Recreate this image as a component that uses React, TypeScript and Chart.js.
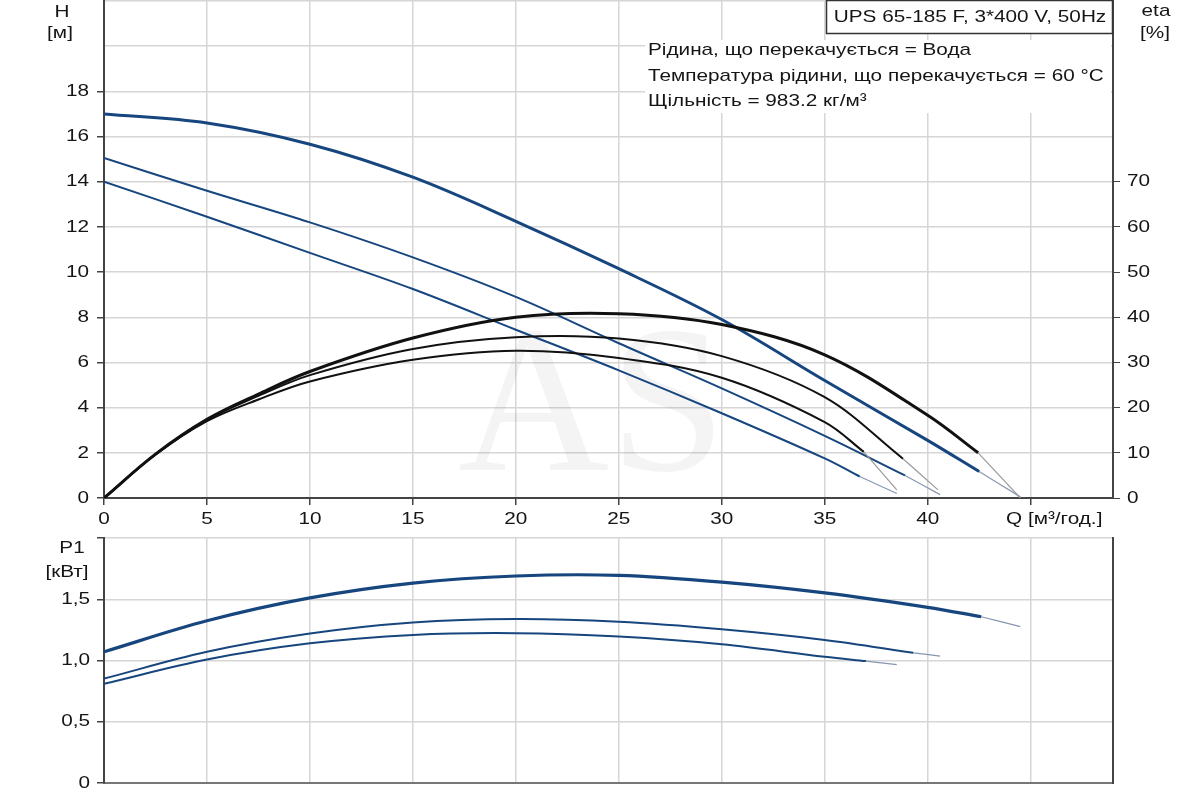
import { useEffect, useRef } from "react"
import Chart from "chart.js/auto"

// осі
const qTicks = [0, 5, 10, 15, 20, 25, 30, 35, 40, 45]
const hTicks = [0, 2, 4, 6, 8, 10, 12, 14, 16, 18, 20, 22]
const etaTicks = [0, 10, 20, 30, 40, 50, 60, 70]
const p1Ticks = [0, 0.5, 1, 1.5, 2]

// напір H [м]
const h1Q = [0, 5, 10, 15, 20, 25, 30, 35, 40, 42.5]
const h1 = [17.0, 16.6, 15.66, 14.2, 12.25, 10.15, 7.9, 5.2, 2.55, 1.17]
const h1TailQ = [42.5, 44.5]
const h1Tail = [1.17, 0.05]

const h2Q = [0, 5, 10, 15, 20, 25, 30, 35, 38.9]
const h2 = [15.05, 13.6, 12.2, 10.65, 8.9, 6.85, 4.85, 2.75, 1.0]
const h2TailQ = [38.9, 40.6]
const h2Tail = [1.0, 0.15]

const h3Q = [0, 5, 10, 15, 20, 25, 30, 35, 36.7]
const h3 = [14.0, 12.45, 10.85, 9.25, 7.45, 5.65, 3.75, 1.75, 0.95]
const h3TailQ = [36.7, 38.5]
const h3Tail = [0.95, 0.2]

// ККД eta [%]
const eta1Q = [0, 2.5, 5, 7.5, 10, 15, 20, 25, 30, 35, 40, 42.45]
const eta1 = [0, 9.7, 17.4, 23.0, 28.0, 35.4, 40.0, 40.8, 38.4, 31.7, 18.3, 10.0]
const eta1TailQ = [42.45, 44.5]
const eta1Tail = [10.0, 0]

const eta2Q = [0, 2.5, 5, 7.5, 10, 15, 20, 25, 30, 35, 38.8]
const eta2 = [0, 9.7, 17.3, 22.6, 27.2, 33.0, 35.6, 35.3, 31.4, 22.3, 8.7]
const eta2TailQ = [38.8, 40.5]
const eta2Tail = [8.7, 1.8]

const eta3Q = [0, 2.5, 5, 7.5, 10, 15, 20, 25, 30, 35, 36.9]
const eta3 = [0, 9.6, 17.0, 21.8, 25.8, 30.6, 32.6, 31.0, 26.6, 16.8, 10.2]
const eta3TailQ = [36.9, 38.5]
const eta3Tail = [10.2, 1.8]

// потужність P1 [кВт]
const p1aQ = [0, 5, 10, 15, 20, 25, 30, 35, 40, 42.6]
const p1a = [1.071, 1.324, 1.511, 1.632, 1.69, 1.695, 1.64, 1.552, 1.434, 1.357]
const p1aTailQ = [42.6, 44.5]
const p1aTail = [1.357, 1.277]

const p1bQ = [0, 5, 10, 15, 20, 25, 30, 35, 39.3]
const p1b = [0.852, 1.071, 1.22, 1.31, 1.338, 1.316, 1.255, 1.168, 1.063]
const p1bTailQ = [39.3, 40.6]
const p1bTail = [1.063, 1.036]

const p1cQ = [0, 5, 10, 15, 20, 25, 30, 35, 37.0]
const p1c = [0.81, 1.008, 1.14, 1.209, 1.223, 1.195, 1.132, 1.03, 0.995]
const p1cTailQ = [37.0, 38.5]
const p1cTail = [0.995, 0.967]

const BLUE = "#17467f"
const BLACK = "#111111"
const TAIL_BLUE = "#8797b0"
const TAIL_GRAY = "#9a9a9a"
const GRID = "#d6d6d6"
const AXIS = "#444444"
const TEXT = "#151515"
const LABEL_FONT = "17px 'Liberation Sans', Arial, sans-serif"
const STRETCH = 1.22 // картинка розтягнута по горизонталі
const HIDDEN = "rgba(0,0,0,0)"

const pts = (xs: number[], ys: number[]) => xs.map((x, i) => ({ x, y: ys[i] }))

const line = (xs: number[], ys: number[], color: string, width: number, axis = "y") => ({
  data: pts(xs, ys),
  borderColor: color,
  borderWidth: width,
  yAxisID: axis,
  pointRadius: 0,
  fill: false,
  tension: 0.35,
})

// текст, розтягнутий по ширині, як у оригіналі
function text(ctx: CanvasRenderingContext2D, s: string, x: number, y: number, align: CanvasTextAlign) {
  ctx.save()
  ctx.translate(x, y)
  ctx.scale(STRETCH, 1)
  ctx.textAlign = align
  ctx.fillText(s, 0, 0)
  ctx.restore()
}

const fmtP1 = (v: number) => (v === 0 ? "0" : v.toFixed(1).replace(".", ","))

function drawTickLabels(chart: any, xLabels: boolean) {
  const ctx = chart.ctx as CanvasRenderingContext2D
  const { x, y } = chart.scales
  ctx.save()
  ctx.font = LABEL_FONT
  ctx.fillStyle = TEXT
  ctx.textBaseline = "middle"
  if (xLabels) {
    qTicks.filter((v) => v <= 40).forEach((v) => text(ctx, String(v), x.getPixelForValue(v), 519, "center"))
    text(ctx, "Q [м³/год.]", 1006, 519, "left")
    hTicks.filter((v) => v <= 18).forEach((v) => text(ctx, String(v), 89, y.getPixelForValue(v), "right"))
    const eta = chart.scales.eta
    etaTicks.forEach((v) => text(ctx, String(v), 1127, eta.getPixelForValue(v), "left"))
  } else {
    p1Ticks.filter((v) => v < 2).forEach((v) => text(ctx, fmtP1(v), 90, y.getPixelForValue(v), "right"))
  }
  ctx.restore()
}

const topLabels = {
  id: "topLabels",
  beforeDatasetsDraw(chart: any) {
    const ctx = chart.ctx
    ctx.save()
    ctx.fillStyle = "rgba(0,0,0,0.045)"
    ctx.font = "210px 'Liberation Serif', serif"
    ctx.textAlign = "center"
    ctx.textBaseline = "alphabetic"
    ctx.fillText("AS", 592, 470)
    ctx.restore()
  },
  afterDraw(chart: any) {
    const ctx = chart.ctx as CanvasRenderingContext2D
    drawTickLabels(chart, true)
    ctx.save()
    ctx.font = LABEL_FONT
    ctx.fillStyle = TEXT
    ctx.textBaseline = "middle"
    text(ctx, "H", 62, 12, "center")
    text(ctx, "[м]", 60, 33, "center")
    text(ctx, "eta", 1156, 11, "center")
    text(ctx, "[%]", 1155, 33, "center")

    // білий фон під описом рідини
    ctx.fillStyle = "#ffffff"
    ctx.fillRect(645, 40, 466, 73)
    ctx.fillStyle = TEXT
    text(ctx, "Рідина, що перекачується = Вода", 648, 50, "left")
    text(ctx, "Температура рідини, що перекачується = 60 °C", 648, 76, "left")
    text(ctx, "Щільність = 983.2 кг/м³", 648, 101, "left")

    // рамка з назвою насоса
    ctx.fillStyle = "#ffffff"
    ctx.fillRect(826, 0, 287, 34)
    ctx.strokeStyle = "#333333"
    ctx.lineWidth = 1.5
    ctx.strokeRect(826.5, 0.5, 286, 33)
    ctx.fillStyle = TEXT
    text(ctx, "UPS 65-185 F, 3*400 V, 50Hz", 970, 17, "center")
    ctx.restore()
  },
}

const bottomLabels = {
  id: "bottomLabels",
  afterDraw(chart: any) {
    const ctx = chart.ctx as CanvasRenderingContext2D
    drawTickLabels(chart, false)
    ctx.save()
    ctx.font = LABEL_FONT
    ctx.fillStyle = TEXT
    ctx.textBaseline = "middle"
    text(ctx, "P1", 72, 18, "center")
    text(ctx, "[кВт]", 67, 42, "center")
    ctx.restore()
  },
}

const fixTicks = (values: number[]) => (scale: any) => {
  scale.ticks = values.map((value) => ({ value }))
}

const fit = (w: number | null, h: number | null) => (s: any) => {
  if (w !== null) s.width = w
  if (h !== null) s.height = h
  s.paddingTop = 0
  s.paddingBottom = 0
  s.paddingLeft = 0
  s.paddingRight = 0
}

export default function App() {
  const topRef = useRef<HTMLCanvasElement>(null)
  const bottomRef = useRef<HTMLCanvasElement>(null)

  useEffect(() => {
    if (!topRef.current || !bottomRef.current) return
    const tickFont = { size: 17, family: "'Liberation Sans', Arial, sans-serif" }

    const top = new Chart(topRef.current, {
      type: "line",
      data: {
        datasets: [
          line(eta1Q, eta1, BLACK, 3, "eta"),
          line(eta2Q, eta2, BLACK, 2, "eta"),
          line(eta3Q, eta3, BLACK, 2, "eta"),
          line(eta1TailQ, eta1Tail, TAIL_GRAY, 1.2, "eta"),
          line(eta2TailQ, eta2Tail, TAIL_GRAY, 1.2, "eta"),
          line(eta3TailQ, eta3Tail, TAIL_GRAY, 1.2, "eta"),
          line(h1Q, h1, BLUE, 3),
          line(h2Q, h2, BLUE, 2),
          line(h3Q, h3, BLUE, 2),
          line(h1TailQ, h1Tail, TAIL_BLUE, 1.2),
          line(h2TailQ, h2Tail, TAIL_BLUE, 1.2),
          line(h3TailQ, h3Tail, TAIL_BLUE, 1.2),
        ],
      },
      options: {
        responsive: false,
        animation: false,
        layout: { padding: { top: 1, left: 0, right: 0, bottom: 0 } },
        plugins: { legend: { display: false }, tooltip: { enabled: false } },
        scales: {
          x: {
            type: "linear",
            min: 0,
            max: 49,
            afterBuildTicks: fixTicks(qTicks),
            ticks: { font: tickFont, color: HIDDEN, maxRotation: 0, autoSkip: false },
            grid: { color: GRID, lineWidth: 1.5, tickLength: 7, tickColor: AXIS },
            border: { color: AXIS, width: 2 },
            afterFit: fit(null, 32),
          },
          y: {
            position: "left",
            min: 0,
            max: 22,
            afterBuildTicks: fixTicks(hTicks),
            ticks: { font: tickFont, color: HIDDEN, autoSkip: false },
            grid: {
              color: GRID,
              lineWidth: 1.5,
              tickLength: 7,
              tickColor: (c: any) => (c.tick && c.tick.value > 18 ? HIDDEN : AXIS),
            },
            border: { color: AXIS, width: 2 },
            afterFit: fit(104, null),
          },
          eta: {
            position: "right",
            min: 0,
            max: 110,
            afterBuildTicks: fixTicks(etaTicks),
            ticks: { font: tickFont, color: HIDDEN, autoSkip: false },
            grid: { drawOnChartArea: false, tickLength: 7, tickColor: AXIS },
            border: { color: AXIS, width: 2 },
            afterFit: fit(87, null),
          },
        },
      },
      plugins: [topLabels],
    })

    const bottom = new Chart(bottomRef.current, {
      type: "line",
      data: {
        datasets: [
          line(p1aQ, p1a, BLUE, 3.2),
          line(p1bQ, p1b, BLUE, 2),
          line(p1cQ, p1c, BLUE, 2),
          line(p1aTailQ, p1aTail, TAIL_BLUE, 1.2),
          line(p1bTailQ, p1bTail, TAIL_BLUE, 1.2),
          line(p1cTailQ, p1cTail, TAIL_BLUE, 1.2),
        ],
      },
      options: {
        responsive: false,
        animation: false,
        layout: { padding: { top: 8, left: 0, right: 0, bottom: 0 } },
        plugins: { legend: { display: false }, tooltip: { enabled: false } },
        scales: {
          x: {
            type: "linear",
            min: 0,
            max: 49,
            afterBuildTicks: fixTicks(qTicks),
            ticks: { display: false },
            grid: { color: GRID, lineWidth: 1.5, drawTicks: false },
            border: { color: "#777777", width: 2 },
            afterFit: fit(null, 17),
          },
          y: {
            position: "left",
            min: 0,
            max: 2,
            afterBuildTicks: fixTicks(p1Ticks),
            ticks: { font: tickFont, color: HIDDEN, autoSkip: false },
            grid: { color: GRID, lineWidth: 1.5, tickLength: 7, tickColor: AXIS },
            border: { color: AXIS, width: 2 },
            afterFit: fit(104, null),
          },
          yr: {
            position: "right",
            min: 0,
            max: 2,
            ticks: { display: false },
            grid: { drawOnChartArea: false, drawTicks: false },
            border: { color: AXIS, width: 2 },
            afterFit: fit(87, null),
          },
        },
      },
      plugins: [bottomLabels],
    })

    return () => {
      top.destroy()
      bottom.destroy()
    }
  }, [])

  return (
    <div
      style={{
        position: "absolute",
        left: 0,
        top: 0,
        width: 1200,
        height: 800,
        background: "#ffffff",
        overflow: "hidden",
      }}
    >
      <canvas ref={topRef} width={1200} height={530} style={{ display: "block" }} />
      <canvas ref={bottomRef} width={1200} height={270} style={{ display: "block" }} />
    </div>
  )
}
